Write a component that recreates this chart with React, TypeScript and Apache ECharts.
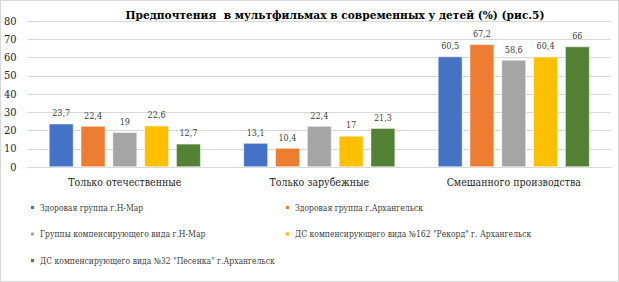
import React, { useEffect, useRef } from "react";
import * as echarts from "echarts";

const categories = ["Только отечественные", "Только зарубежные", "Смешанного производства"];
const seriesNames = [
  "Здоровая группа г.Н-Мар",
  "Здоровая группа г.Архангельск",
  "Группы компенсирующего вида г.Н-Мар",
  "ДС компенсирующего вида №162 \"Рекорд\" г. Архангельск",
  "ДС компенсирующего вида №32 \"Песенка\" г.Архангельск",
];
const s1 = [23.7, 13.1, 60.5];
const s2 = [22.4, 10.4, 67.2];
const s3 = [19, 22.4, 58.6];
const s4 = [22.6, 17, 60.4];
const s5 = [12.7, 21.3, 66];
const seriesValues = [s1, s2, s3, s4, s5];
const colors = ["#4472C4", "#ED7D31", "#A5A5A5", "#FFC000", "#548235"];
const titleText = "Предпочтения  в мультфильмах в современных у детей (%) (рис.5)";

const FONT = "DejaVu Serif Condensed";

export default function App() {
  const ref = useRef<HTMLDivElement>(null);
  useEffect(() => {
    if (!ref.current) return;
    const chart = echarts.init(ref.current, undefined, { renderer: "svg" });
    const legendText = { fontFamily: FONT, fontSize: 8.5, color: "#404040" };
    chart.setOption({
      animation: false,
      textStyle: { fontFamily: FONT },
      title: {
        text: titleText,
        left: 329,
        textAlign: "center",
        top: 3,
        textStyle: { fontFamily: FONT, fontSize: 11.8, fontWeight: "bold", color: "#000" },
      },
      grid: { left: 24, right: 7, top: 20, bottom: 114 },
      legend: [
        {
          data: [seriesNames[0], seriesNames[2], seriesNames[4]],
          orient: "vertical",
          left: 23,
          top: 197,
          itemWidth: 5,
          itemHeight: 5,
          itemGap: 17.5,
          icon: "rect",
          textStyle: legendText,
        },
        {
          data: [seriesNames[1], seriesNames[3]],
          orient: "vertical",
          left: 278,
          top: 197,
          itemWidth: 5,
          itemHeight: 5,
          itemGap: 17.5,
          icon: "rect",
          textStyle: legendText,
        },
      ],
      xAxis: {
        type: "category",
        data: categories,
        axisLine: { lineStyle: { color: "#D9D9D9" } },
        axisTick: { show: false },
        axisLabel: { fontFamily: FONT, fontSize: 10.5, color: "#262626", margin: 9, interval: 0 },
      },
      yAxis: {
        type: "value",
        min: 0,
        max: 80,
        interval: 10,
        axisLine: { show: false },
        axisTick: { show: false },
        splitLine: { lineStyle: { color: "#D9D9D9" } },
        axisLabel: { fontFamily: FONT, fontSize: 11, color: "#262626", margin: 11 },
      },
      series: seriesValues.map((vals, i) => ({
        name: seriesNames[i],
        type: "bar",
        data: vals,
        barGap: "30%",
        barCategoryGap: "22%",
        itemStyle: { color: colors[i], borderColor: "#ffffff", borderWidth: 0.5 },
        label: {
          show: true,
          position: "top",
          distance: 6,
          fontFamily: FONT,
          fontSize: 9,
          color: "#404040",
          formatter: (p: any) => String(p.value).replace(".", ","),
        },
      })),
    });
    return () => chart.dispose();
  }, []);
  return (
    <div
      style={{
        position: "fixed",
        left: 0,
        top: 0,
        width: 619,
        height: 282,
        boxSizing: "border-box",
        border: "1px solid #D9D9D9",
        background: "#fff",
      }}
    >
      <div ref={ref} style={{ width: 617, height: 280 }} />
    </div>
  );
}
